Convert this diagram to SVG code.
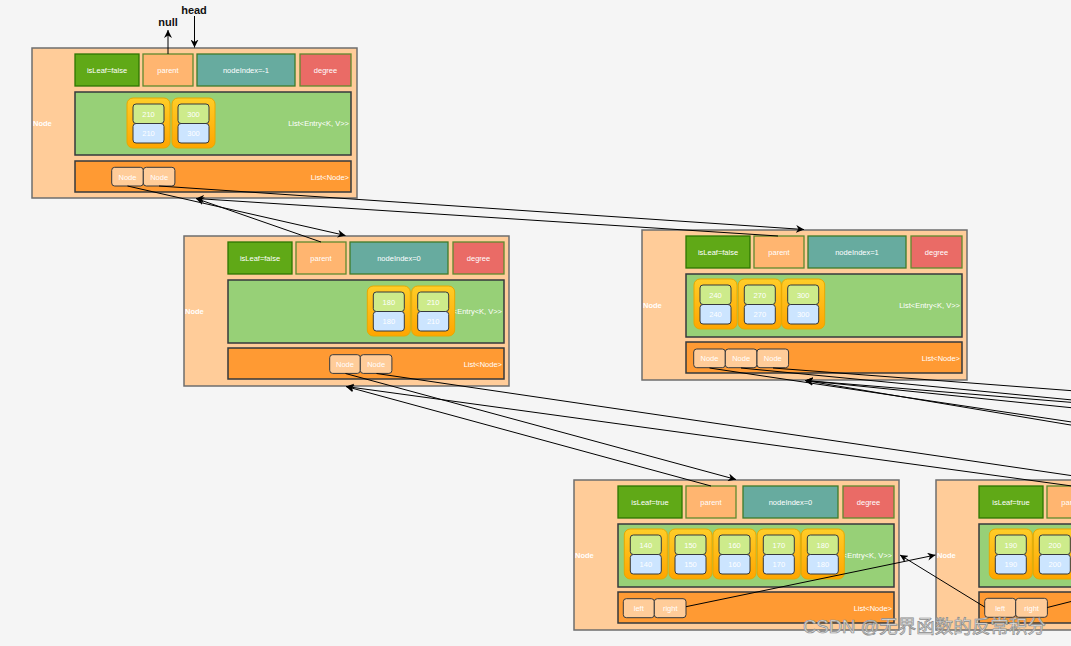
<svg xmlns="http://www.w3.org/2000/svg" width="1071" height="646" viewBox="0 0 1071 646">
<defs>
<linearGradient id="gg" x1="0" y1="0" x2="0" y2="1"><stop offset="0" stop-color="#FFCD28"/><stop offset="1" stop-color="#FFA500"/></linearGradient>
<marker id="ar" viewBox="0 0 10 10" refX="10" refY="5" markerWidth="8" markerHeight="8" markerUnits="userSpaceOnUse" orient="auto"><path d="M0,0 L10,5 L0,10 L3,5 Z" fill="#000"/></marker>
<style>
.outer{fill:#FFCC99;stroke:#6E6E6E;stroke-width:1.5}
.leaf{fill:#60A917;stroke:#2D7600;stroke-width:1.3}
.par{fill:#FFB570;stroke:#5E8A2E;stroke-width:1.3}
.idx{fill:#67AB9F;stroke:#3E7B2A;stroke-width:1.3}
.deg{fill:#EA6B66;stroke:#5E8A2E;stroke-width:1.3}
.ents{fill:#97D077;stroke:#36393D;stroke-width:1.5}
.grp{fill:url(#gg);stroke:#E8A800;stroke-width:1}
.ck{fill:#CDEB8B;stroke:#36393D;stroke-width:1}
.cv{fill:#CCE5FF;stroke:#36393D;stroke-width:1}
.lst{fill:#FF9A33;stroke:#36393D;stroke-width:1.5}
.nc{fill:#FFCC99;stroke:#36393D;stroke-width:1}
.t{font-family:"Liberation Sans",Arial,sans-serif;font-size:7.5px;fill:#fff;text-anchor:middle}
.tr{font-family:"Liberation Sans",Arial,sans-serif;font-size:7.5px;fill:#fff;text-anchor:end}
.tn{font-family:"Liberation Sans",Arial,sans-serif;font-size:7.5px;fill:#fff;font-weight:bold}
.big{font-family:"Liberation Sans",Arial,sans-serif;font-size:11px;fill:#111;font-weight:bold;text-anchor:middle}
.e{fill:none;stroke:#000;stroke-width:1;marker-end:url(#ar)}
.l{fill:none;stroke:#000;stroke-width:1}
</style>
</defs>
<rect x="0" y="0" width="1071" height="646" fill="#F5F5F5"/>

<g id="node-root" transform="translate(32,48)">
<rect class="outer" x="0" y="0" width="325" height="150"/>
<text class="tn" x="1" y="78">Node</text>
<rect class="leaf" x="43" y="6" width="64" height="32"/><text class="t" x="75" y="25">isLeaf=false</text>
<rect class="par" x="111" y="6" width="50" height="32"/><text class="t" x="136" y="25">parent</text>
<rect class="idx" x="165" y="6" width="98" height="32"/><text class="t" x="214" y="25">nodeIndex=-1</text>
<rect class="deg" x="268" y="6" width="51" height="32"/><text class="t" x="293.5" y="25">degree</text>
<rect class="ents" x="43" y="44" width="276" height="63"/><text class="tr" x="317" y="78">List&lt;Entry&lt;K, V&gt;&gt;</text>
<g transform="translate(95,50)"><rect class="grp" x="0" y="0" width="43" height="50" rx="6"/><rect class="ck" x="6" y="6" width="31" height="19.5" rx="3"/><rect class="cv" x="6" y="25.5" width="31" height="19.5" rx="3"/><text class="t" x="21.5" y="18.5">210</text><text class="t" x="21.5" y="38">210</text></g>
<g transform="translate(140,50)"><rect class="grp" x="0" y="0" width="43" height="50" rx="6"/><rect class="ck" x="6" y="6" width="31" height="19.5" rx="3"/><rect class="cv" x="6" y="25.5" width="31" height="19.5" rx="3"/><text class="t" x="21.5" y="18.5">300</text><text class="t" x="21.5" y="38">300</text></g>
<rect class="lst" x="43" y="113" width="276" height="31"/><text class="tr" x="317" y="131.5">List&lt;Node&gt;</text>
<rect class="nc" x="79.7" y="119.3" width="31.6" height="18.7" rx="3"/><text class="t" x="95.5" y="131.5">Node</text>
<rect class="nc" x="111.3" y="119.3" width="31.6" height="18.7" rx="3"/><text class="t" x="127.1" y="131.5">Node</text>
</g>

<g id="node-a" transform="translate(184,236)">
<rect class="outer" x="0" y="0" width="325" height="150"/>
<text class="tn" x="1" y="78">Node</text>
<rect class="leaf" x="44" y="6" width="64" height="32"/><text class="t" x="76" y="25">isLeaf=false</text>
<rect class="par" x="112" y="6" width="50" height="32"/><text class="t" x="137" y="25">parent</text>
<rect class="idx" x="166" y="6" width="98" height="32"/><text class="t" x="215" y="25">nodeIndex=0</text>
<rect class="deg" x="269" y="6" width="51" height="32"/><text class="t" x="294.5" y="25">degree</text>
<rect class="ents" x="44" y="44" width="276" height="63"/><text class="tr" x="318" y="78">List&lt;Entry&lt;K, V&gt;&gt;</text>
<g transform="translate(183.3,50)"><rect class="grp" x="0" y="0" width="43" height="50" rx="6"/><rect class="ck" x="6" y="6" width="31" height="19.5" rx="3"/><rect class="cv" x="6" y="25.5" width="31" height="19.5" rx="3"/><text class="t" x="21.5" y="18.5">180</text><text class="t" x="21.5" y="38">180</text></g>
<g transform="translate(227.7,50)"><rect class="grp" x="0" y="0" width="43" height="50" rx="6"/><rect class="ck" x="6" y="6" width="31" height="19.5" rx="3"/><rect class="cv" x="6" y="25.5" width="31" height="19.5" rx="3"/><text class="t" x="21.5" y="18.5">210</text><text class="t" x="21.5" y="38">210</text></g>
<rect class="lst" x="44" y="112" width="276" height="31"/><text class="tr" x="318" y="130.5">List&lt;Node&gt;</text>
<rect class="nc" x="145.7" y="118.7" width="30.6" height="18.7" rx="3"/><text class="t" x="161" y="131">Node</text>
<rect class="nc" x="176.3" y="118.7" width="31.6" height="18.7" rx="3"/><text class="t" x="192.1" y="131">Node</text>
</g>

<g id="node-b" transform="translate(642,230)">
<rect class="outer" x="0" y="0" width="325" height="150"/>
<text class="tn" x="1" y="78">Node</text>
<rect class="leaf" x="44" y="6" width="64" height="32"/><text class="t" x="76" y="25">isLeaf=false</text>
<rect class="par" x="112" y="6" width="50" height="32"/><text class="t" x="137" y="25">parent</text>
<rect class="idx" x="166" y="6" width="98" height="32"/><text class="t" x="215" y="25">nodeIndex=1</text>
<rect class="deg" x="269" y="6" width="51" height="32"/><text class="t" x="294.5" y="25">degree</text>
<rect class="ents" x="44" y="44" width="276" height="63"/><text class="tr" x="318" y="78">List&lt;Entry&lt;K, V&gt;&gt;</text>
<g transform="translate(52,49)"><rect class="grp" x="0" y="0" width="43" height="50" rx="6"/><rect class="ck" x="6" y="6" width="31" height="19.5" rx="3"/><rect class="cv" x="6" y="25.5" width="31" height="19.5" rx="3"/><text class="t" x="21.5" y="18.5">240</text><text class="t" x="21.5" y="38">240</text></g>
<g transform="translate(96.3,49)"><rect class="grp" x="0" y="0" width="43" height="50" rx="6"/><rect class="ck" x="6" y="6" width="31" height="19.5" rx="3"/><rect class="cv" x="6" y="25.5" width="31" height="19.5" rx="3"/><text class="t" x="21.5" y="18.5">270</text><text class="t" x="21.5" y="38">270</text></g>
<g transform="translate(139.7,49)"><rect class="grp" x="0" y="0" width="43" height="50" rx="6"/><rect class="ck" x="6" y="6" width="31" height="19.5" rx="3"/><rect class="cv" x="6" y="25.5" width="31" height="19.5" rx="3"/><text class="t" x="21.5" y="18.5">300</text><text class="t" x="21.5" y="38">300</text></g>
<rect class="lst" x="44" y="112" width="276" height="31"/><text class="tr" x="318" y="130.5">List&lt;Node&gt;</text>
<rect class="nc" x="51.7" y="119" width="31.6" height="18.7" rx="3"/><text class="t" x="67.5" y="131.2">Node</text>
<rect class="nc" x="83.3" y="119" width="31.6" height="18.7" rx="3"/><text class="t" x="99.1" y="131.2">Node</text>
<rect class="nc" x="115" y="119" width="31.6" height="18.7" rx="3"/><text class="t" x="130.8" y="131.2">Node</text>
</g>

<g id="node-c" transform="translate(574,480)">
<rect class="outer" x="0" y="0" width="325" height="150"/>
<text class="tn" x="1" y="78">Node</text>
<rect class="leaf" x="44" y="6" width="64" height="32"/><text class="t" x="76" y="25">isLeaf=true</text>
<rect class="par" x="112" y="6" width="50" height="32"/><text class="t" x="137" y="25">parent</text>
<rect class="idx" x="169" y="6" width="95" height="32"/><text class="t" x="216.5" y="25">nodeIndex=0</text>
<rect class="deg" x="269" y="6" width="51" height="32"/><text class="t" x="294.5" y="25">degree</text>
<rect class="ents" x="44" y="44" width="276" height="63"/><text class="tr" x="318" y="78">List&lt;Entry&lt;K, V&gt;&gt;</text>
<g transform="translate(50.3,49)"><rect class="grp" x="0" y="0" width="43" height="50" rx="6"/><rect class="ck" x="6" y="6" width="31" height="19.5" rx="3"/><rect class="cv" x="6" y="25.5" width="31" height="19.5" rx="3"/><text class="t" x="21.5" y="18.5">140</text><text class="t" x="21.5" y="38">140</text></g>
<g transform="translate(95,49)"><rect class="grp" x="0" y="0" width="43" height="50" rx="6"/><rect class="ck" x="6" y="6" width="31" height="19.5" rx="3"/><rect class="cv" x="6" y="25.5" width="31" height="19.5" rx="3"/><text class="t" x="21.5" y="18.5">150</text><text class="t" x="21.5" y="38">150</text></g>
<g transform="translate(139,49)"><rect class="grp" x="0" y="0" width="43" height="50" rx="6"/><rect class="ck" x="6" y="6" width="31" height="19.5" rx="3"/><rect class="cv" x="6" y="25.5" width="31" height="19.5" rx="3"/><text class="t" x="21.5" y="18.5">160</text><text class="t" x="21.5" y="38">160</text></g>
<g transform="translate(183.3,49)"><rect class="grp" x="0" y="0" width="43" height="50" rx="6"/><rect class="ck" x="6" y="6" width="31" height="19.5" rx="3"/><rect class="cv" x="6" y="25.5" width="31" height="19.5" rx="3"/><text class="t" x="21.5" y="18.5">170</text><text class="t" x="21.5" y="38">170</text></g>
<g transform="translate(227.3,49)"><rect class="grp" x="0" y="0" width="43" height="50" rx="6"/><rect class="ck" x="6" y="6" width="31" height="19.5" rx="3"/><rect class="cv" x="6" y="25.5" width="31" height="19.5" rx="3"/><text class="t" x="21.5" y="18.5">180</text><text class="t" x="21.5" y="38">180</text></g>
<rect class="lst" x="44" y="112" width="276" height="31"/><text class="tr" x="318" y="130.5">List&lt;Node&gt;</text>
<rect class="nc" x="49.3" y="118.7" width="31" height="19" rx="3"/><text class="t" x="64.8" y="131">left</text>
<rect class="nc" x="80.3" y="118.7" width="31.7" height="19" rx="3"/><text class="t" x="96.2" y="131">right</text>
</g>

<g id="node-d" transform="translate(936,480)">
<rect class="outer" x="0" y="0" width="325" height="150"/>
<text class="tn" x="1" y="78">Node</text>
<rect class="leaf" x="43" y="6" width="64" height="32"/><text class="t" x="75" y="25">isLeaf=true</text>
<rect class="par" x="111" y="6" width="50" height="32"/><text class="t" x="136" y="25">parent</text>
<rect class="ents" x="43" y="44" width="276" height="63"/>
<g transform="translate(53.3,49)"><rect class="grp" x="0" y="0" width="43" height="50" rx="6"/><rect class="ck" x="6" y="6" width="31" height="19.5" rx="3"/><rect class="cv" x="6" y="25.5" width="31" height="19.5" rx="3"/><text class="t" x="21.5" y="18.5">190</text><text class="t" x="21.5" y="38">190</text></g>
<g transform="translate(97.3,49)"><rect class="grp" x="0" y="0" width="43" height="50" rx="6"/><rect class="ck" x="6" y="6" width="31" height="19.5" rx="3"/><rect class="cv" x="6" y="25.5" width="31" height="19.5" rx="3"/><text class="t" x="21.5" y="18.5">200</text><text class="t" x="21.5" y="38">200</text></g>
<rect class="lst" x="43" y="112" width="276" height="31"/>
<rect class="nc" x="48.7" y="118.3" width="31" height="19" rx="3"/><text class="t" x="64.2" y="130.6">left</text>
<rect class="nc" x="79.7" y="118.3" width="31.7" height="19" rx="3"/><text class="t" x="95.6" y="130.6">right</text>
</g>

<g id="labels">
<text class="big" x="168" y="26">null</text>
<text class="big" x="194" y="14">head</text>
</g>

<g id="connectors">
<line class="e" x1="168" y1="54" x2="168" y2="30"/>
<line class="e" x1="194.5" y1="16" x2="194.5" y2="47.5"/>
<line class="e" x1="127.5" y1="186" x2="345.5" y2="235.5"/>
<line class="e" x1="321" y1="242" x2="196" y2="198.5"/>
<line class="e" x1="159" y1="186" x2="804" y2="229.5"/>
<line class="e" x1="778" y1="236" x2="196" y2="198.5"/>
<line class="e" x1="345.5" y1="373.5" x2="736" y2="479.5"/>
<line class="e" x1="711" y1="486" x2="346" y2="386.5"/>
<line class="e" x1="376.5" y1="373.5" x2="1098" y2="479.5"/>
<line class="e" x1="1072" y1="486" x2="346" y2="386.5"/>
<line class="l" x1="709.5" y1="368" x2="1085" y2="424"/>
<line class="l" x1="741" y1="368" x2="1085" y2="401.2"/>
<line class="l" x1="773" y1="368" x2="1085" y2="391.7"/>
<line class="e" x1="1085" y1="403.5" x2="805" y2="380.5"/>
<line class="e" x1="1085" y1="409.1" x2="805" y2="380.5"/>
<line class="e" x1="1085" y1="427.4" x2="805" y2="380.5"/>
<line class="e" x1="686" y1="606.7" x2="935.5" y2="555"/>
<line class="e" x1="984.7" y1="607" x2="900" y2="555"/>
<line class="l" x1="1047.3" y1="607.5" x2="1085" y2="598"/>
</g>

<text x="803" y="633" font-family="'Liberation Sans','Noto Sans CJK SC',sans-serif" font-size="18.5" fill="#E2E2E2" stroke="#8C8C8C" stroke-width="0.7">CSDN @无界函数的反常积分</text>
</svg>
